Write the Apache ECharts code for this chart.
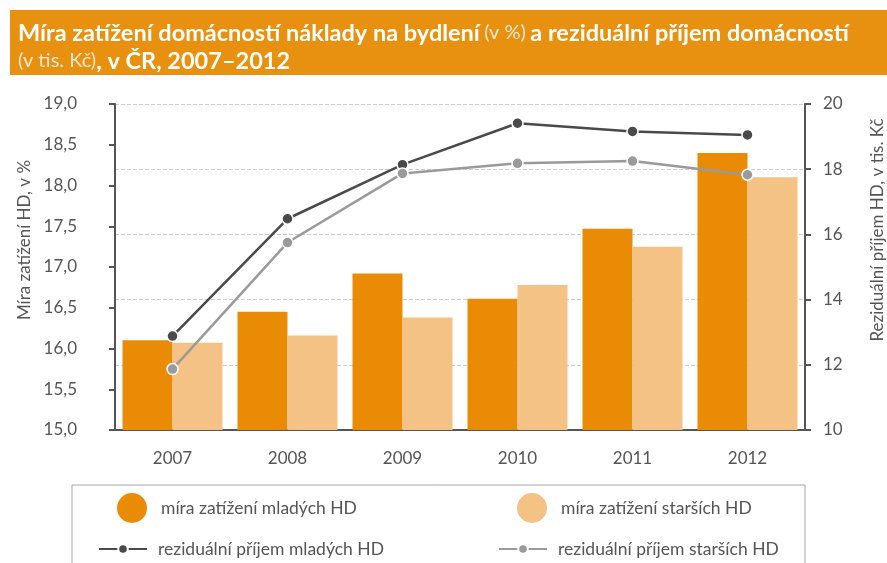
<!DOCTYPE html>
<html>
<head>
<meta charset="utf-8">
<script src="https://cdn.jsdelivr.net/npm/echarts@6/dist/echarts.min.js"></script>
<style>
  html, body { margin: 0; padding: 0; background: #fff; }
  #chart { width: 887px; height: 563px; }
</style>
</head>
<body>
<div id="chart"></div>
<script>
// data
var years = ["2007", "2008", "2009", "2010", "2011", "2012"];
var zatizeniMladych = [16.10, 16.45, 16.92, 16.61, 17.47, 18.40];
var zatizeniStarsich = [16.07, 16.16, 16.38, 16.78, 17.25, 18.10];
var prijemMladych = [12.88, 16.48, 18.14, 19.41, 19.16, 19.05];
var prijemStarsich = [11.87, 15.75, 17.87, 18.18, 18.25, 17.83];

var names = [
  "míra zatížení mladých HD",
  "míra zatížení starších HD",
  "reziduální příjem mladých HD",
  "reziduální příjem starších HD"
];

var FONT = "Lato";
var TXT = "#555555";
var ORANGE = "#E98B05";
var LIGHT = "#F5C286";

var chart = echarts.init(document.getElementById("chart"));

// one legend per item so they sit in the 2x2 box
function legendItem(name, left, top, isBar) {
  return {
    data: [name],
    left: left,
    top: top,
    icon: isBar ? "circle" : undefined,
    itemWidth: isBar ? 30 : 48,
    itemHeight: isBar ? 30 : 12,
    itemGap: 0,
    textStyle: { fontFamily: FONT, fontSize: 17.5, color: TXT, padding: [0, 0, 0, isBar ? 9 : 6] },
    selectedMode: false
  };
}

var option = {
  animation: false,
  textStyle: { fontFamily: FONT },
  graphic: [
    {
      type: "rect",
      shape: { x: 10, y: 10, width: 877, height: 65 },
      style: { fill: "#E8900F" },
      z: 0
    },
    {
      type: "rect",
      shape: { x: 72, y: 485, width: 733, height: 100 },
      style: { fill: "none", stroke: "#A8A8A8", lineWidth: 1 },
      z: 0
    }
  ],
  title: {
    left: 13,
    top: 14,
    text: "{b|Míra zatížení domácností náklady na bydlení} {l|(v %)} {b|a reziduální příjem domácností}\n{l|(v tis. Kč)}{b|, v ČR, 2007–2012}",
    textStyle: {
      rich: {
        b: { fontFamily: FONT, fontWeight: "bold", fontSize: 23.5, color: "#fff", lineHeight: 28 },
        l: { fontFamily: FONT, fontWeight: "normal", fontSize: 20, color: "#FCE9CF", lineHeight: 28 }
      }
    }
  },
  legend: [
    legendItem(names[0], 112, 488, true),
    legendItem(names[1], 512, 488, true),
    legendItem(names[2], 93, 535, false),
    legendItem(names[3], 493, 535, false)
  ],
  grid: { left: 115, right: 82, top: 104, bottom: 133, outerBoundsMode: "none", containLabel: false },
  xAxis: {
    type: "category",
    data: years,
    axisLine: { lineStyle: { color: "#555", width: 2 } },
    axisTick: { show: false },
    axisLabel: { color: TXT, fontSize: 17, fontFamily: FONT, margin: 20 }
  },
  yAxis: [
    {
      type: "value",
      min: 15,
      max: 19,
      interval: 0.5,
      position: "left",
      name: "Míra zatížení HD, v %",
      nameLocation: "middle",
      nameRotate: 90,
      nameGap: 80,
      nameTextStyle: { color: TXT, fontSize: 17, fontFamily: FONT, padding: [0, 0, 0, 54] },
      axisLine: { show: true, lineStyle: { color: "#555", width: 2 } },
      axisTick: { show: true, length: 6, lineStyle: { color: "#555", width: 2 } },
      axisLabel: {
        color: TXT, fontSize: 17, fontFamily: FONT, margin: 38,
        formatter: function (v) { return v.toFixed(1).replace(".", ","); }
      },
      splitLine: { show: false }
    },
    {
      type: "value",
      min: 10,
      max: 20,
      interval: 2,
      position: "right",
      name: "Reziduální příjem HD, v tis. Kč",
      nameLocation: "middle",
      nameRotate: 90,
      nameGap: 64,
      nameTextStyle: { color: TXT, fontSize: 17, fontFamily: FONT, padding: [0, 0, 0, 74] },
      axisLine: { show: true, lineStyle: { color: "#555", width: 2 } },
      axisTick: { show: true, length: 6, lineStyle: { color: "#555", width: 2 } },
      axisLabel: { color: TXT, fontSize: 17, fontFamily: FONT, margin: 18 },
      splitLine: { show: true, lineStyle: { color: "#CFCBD6", type: "dashed", width: 1 } }
    }
  ],
  series: [
    {
      name: names[0],
      type: "bar",
      yAxisIndex: 0,
      data: zatizeniMladych,
      barWidth: 50,
      barGap: "0%",
      itemStyle: { color: ORANGE }
    },
    {
      name: names[1],
      type: "bar",
      yAxisIndex: 0,
      data: zatizeniStarsich,
      barWidth: 50,
      barGap: "0%",
      itemStyle: { color: LIGHT }
    },
    {
      name: names[2],
      type: "line",
      yAxisIndex: 1,
      data: prijemMladych,
      symbol: "circle",
      symbolSize: 11,
      lineStyle: { color: "#4A4A4A", width: 2.5 },
      itemStyle: { color: "#4A4A4A", borderColor: "#fff", borderWidth: 1.5 },
      z: 5
    },
    {
      name: names[3],
      type: "line",
      yAxisIndex: 1,
      data: prijemStarsich,
      symbol: "circle",
      symbolSize: 11,
      lineStyle: { color: "#9A9A9A", width: 2.5 },
      itemStyle: { color: "#9A9A9A", borderColor: "#fff", borderWidth: 1.5 },
      z: 5
    }
  ]
};

chart.setOption(option);
</script>
</body>
</html>
